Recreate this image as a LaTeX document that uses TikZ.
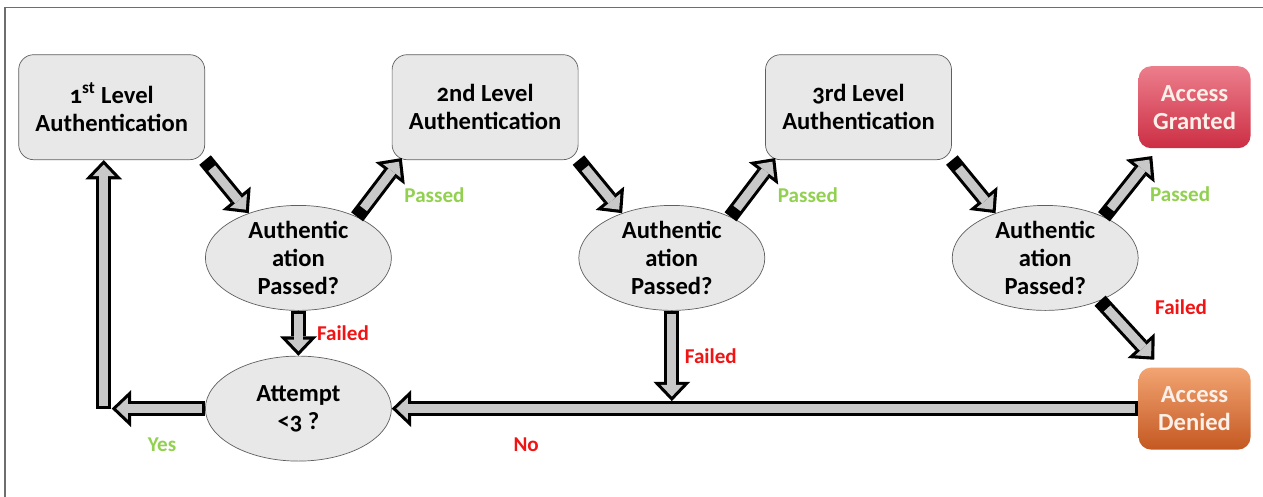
\documentclass[tikz,border=0pt]{standalone}
\usepackage{fontspec}
\setmainfont{Carlito}[Numbers=OldStyle]
\usetikzlibrary{matrix, arrows.meta, shapes.geometric}

\definecolor{boxfill}{RGB}{232,232,232}
\definecolor{boxline}{RGB}{95,95,95}
\definecolor{arrowfill}{RGB}{200,200,200}
\definecolor{passgreen}{RGB}{146,208,80}
\definecolor{failred}{RGB}{240,20,20}
\definecolor{grantedtop}{RGB}{236,126,140}
\definecolor{grantedbot}{RGB}{204,46,68}
\definecolor{deniedtop}{RGB}{242,164,114}
\definecolor{deniedbot}{RGB}{196,88,34}
\definecolor{resulttext}{RGB}{252,240,232}
\definecolor{framegray}{RGB}{110,110,110}

\begin{document}
\begin{tikzpicture}[
  level/.style={draw=boxline, fill=boxfill, rounded corners=0.3cm, inner sep=2pt, minimum width=3.72cm, minimum height=2.1cm, align=center, font=\bfseries\fontsize{14}{16}\selectfont},
  check/.style={ellipse, draw=boxline, fill=boxfill, inner xsep=0pt, inner ysep=-4pt, minimum width=3.72cm, minimum height=2.1cm, align=center, font=\bfseries\fontsize{14}{16}\selectfont},
  result/.style={rounded corners=0.25cm, inner sep=2pt, minimum width=2.24cm, minimum height=1.64cm, align=center, text=resulttext, font=\bfseries\fontsize{14}{16}\selectfont},
  flow/.style={draw=black, line width=8.5pt, -{Triangle[length=11pt, width=21pt, line width=0pt]}, postaction={draw=arrowfill, line width=5pt, shorten <=#1, shorten >=2.6pt, -{Triangle[length=6.6pt, width=12.6pt, line width=0pt]}}},
  flow/.default=1.7pt,
  passlab/.style={text=passgreen, font=\bfseries\fontsize{12}{14}\selectfont},
  faillab/.style={text=failred, font=\bfseries\fontsize{12}{14}\selectfont}]
\useasboundingbox (0,0) rectangle (25.26,-9.94);
\draw[framegray, line width=1pt] (0.106,-9.94) -- (0.106,-0.15) -- (25.26,-0.15);
\matrix (m) [matrix anchor=north west, column sep=0pt, row sep=0.9cm, inner sep=0pt] at (0.36,-1.08) {
\node[level](lvl1){1\textsuperscript{st} Level\\Authentication}; & & \node[level](lvl2){2nd Level\\Authentication}; & & \node[level](lvl3){3rd Level\\Authentication}; & & \node[result, top color=grantedtop, bottom color=grantedbot](granted){Access\\Granted}; \\
& \node[check](chk1){Authentic\\ation\\Passed?}; & & \node[check](chk2){Authentic\\ation\\Passed?}; & & \node[check](chk3){Authentic\\ation\\Passed?}; & \\
& \node[check](attempt){Attempt\\<3 ?}; & & & & & \node[result, top color=deniedtop, bottom color=deniedbot](denied){Access\\Denied}; \\
};
\draw[flow=6pt] (lvl1.south east) -- (chk1.138);
\draw[flow=6pt] (chk1.35) -- ([shift={(0.2,0.04)}]lvl2.south west) node[pos=0.5, xshift=1.1cm, yshift=-0.16cm, passlab]{Passed};
\draw[flow=6pt] (lvl2.south east) -- (chk2.138);
\draw[flow=6pt] (chk2.35) -- ([shift={(0.2,0.04)}]lvl3.south west) node[pos=0.5, xshift=1.1cm, yshift=-0.16cm, passlab]{Passed};
\draw[flow=6pt] (lvl3.south east) -- (chk3.138);
\draw[flow=6pt] (chk3.35) -- ([shift={(0.28,-0.15)}]granted.south west) node[pos=0.5, xshift=1.04cm, yshift=-0.16cm, passlab]{Passed};
\draw[flow=6pt] (chk3.-38) -- ([shift={(0.32,0.15)}]denied.north west) node[pos=0.5, xshift=1.08cm, yshift=0.46cm, faillab]{Failed};
\draw[flow] (chk1.south) -- (attempt.north) node[pos=0.5, xshift=0.89cm, faillab]{Failed};
\draw[flow] (denied.west) -- (attempt.east) node[pos=0.82, yshift=-0.73cm, faillab]{No};
\path (chk2.south |- denied.west) ++(0,0.15) coordinate (drop);
\draw[flow] (chk2.south) -- (drop) node[pos=0.5, xshift=0.78cm, faillab]{Failed};
\path (lvl1.south |- attempt.west) ++(-0.16,0) coordinate (turn);
\draw[flow] (attempt.west) -- ([xshift=0.16cm]turn) node[pos=0.46, yshift=-0.73cm, passlab]{Yes};
\draw[flow] (turn) -- (turn |- lvl1.south);
\end{tikzpicture}
\end{document}
